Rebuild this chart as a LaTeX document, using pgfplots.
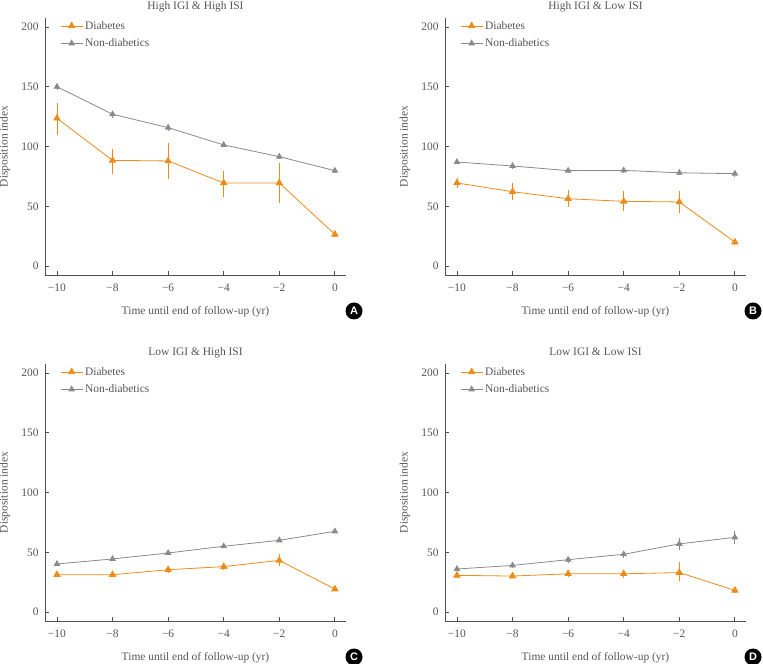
\documentclass[border=0pt]{standalone}
\usepackage{fontspec}
\setmainfont{Liberation Serif}
\newfontfamily\circfont{Liberation Sans}
\usepackage{pgfplots}
\pgfplotsset{compat=1.18}
\definecolor{dorange}{HTML}{EC8C1A}
\definecolor{ngray}{HTML}{8A8A8A}
\definecolor{axisgray}{HTML}{505050}
\definecolor{textgray}{HTML}{555555}
\pgfplotsset{
  every axis title shift=0pt,
  panel/.style={
    scale only axis, width=301bp, height=257bp,
    xmin=-10.43, xmax=0.4, ymin=-7.5, ymax=207.5,
    axis x line*=bottom, axis y line*=left,
    axis line style={-, draw=axisgray, line width=0.8bp},
    xtick={-10,-8,-6,-4,-2,0},
    xticklabels={−10,−8,−6,−4,−2,0},
    ytick={0,50,100,150,200},
    yticklabels={0,50,100,150,200},
    tick style={draw=axisgray, line width=0.8bp},
    major tick length=4bp, tick align=inside,
    font=\fontsize{11.5}{13}\selectfont,
    tick label style={text=textgray, font=\fontsize{11.5}{13}\selectfont},
    xticklabel style={yshift=-5bp},
    yticklabel style={xshift=-3bp},
    xlabel={Time until end of follow-up (yr)},
    ylabel={Disposition index},
    label style={text=textgray, font=\fontsize{11.5}{13}\selectfont},
    xlabel style={at={(axis description cs:0.5,-0.144)}, anchor=center},
    ylabel style={at={(axis description cs:-0.133,0.5)}, anchor=center},
    title style={at={(axis description cs:0.5,1)}, anchor=base, yshift=8.5bp, text=textgray, font=\fontsize{11.5}{13}\selectfont},
    legend cell align=left,
    legend style={draw=none, fill=none, at={(rel axis cs:0,1)}, anchor=north west, xshift=12bp, yshift=1bp,
      font=\fontsize{11.5}{13}\selectfont, text=textgray, row sep=4bp},
    legend image code/.code={\draw[mark repeat=2,mark phase=2] plot coordinates {(0cm,0cm)(0.39cm,0cm)(0.78cm,0cm)};},
  },
  diab/.style={color=dorange, line width=0.8bp, mark=triangle*, mark size=3.6bp,
    mark options={solid, fill=dorange, draw=dorange},
    error bars/.cd, y dir=both, y explicit, error mark=none,
    error bar style={line width=0.8bp, color=dorange}},
  nond/.style={color=ngray, line width=0.8bp, mark=triangle*, mark size=3.1bp,
    mark options={solid, fill=ngray, draw=ngray},
    error bars/.cd, y dir=both, y explicit, error mark=none,
    error bar style={line width=0.8bp, color=ngray}},
}
\begin{document}
\begin{tikzpicture}
\useasboundingbox (0,0) rectangle (763bp,664bp);
% Panel A
\begin{axis}[panel, at={(45bp,389bp)}, anchor=south west, title={High IGI \& High ISI}]
\addplot[diab] table[x=x, y=y, y error plus=ep, y error minus=em] {
x y ep em
-10 123.6 12.5 14
-8 88.4 9.6 11
-6 87.9 14.7 15.4
-4 69.5 10 11.5
-2 69.5 16.5 17
0 26.5 2.5 2.5
};
\addlegendentry{Diabetes}
\addplot[nond] table[x=x, y=y, y error plus=ep, y error minus=em] {
x y ep em
-10 150 2.5 2.5
-8 127 3 3
-6 115.8 2.5 2.5
-4 101.3 2 2
-2 91.5 2 2
0 79.8 2 2
};
\addlegendentry{Non-diabetics}
\end{axis}
% Panel B
\begin{axis}[panel, at={(445bp,389bp)}, anchor=south west, title={High IGI \& Low ISI}]
\addplot[diab] table[x=x, y=y, y error plus=ep, y error minus=em] {
x y ep em
-10 69.5 4 4.5
-8 62.2 7 7
-6 56.3 7 6.7
-4 54.1 8.5 8
-2 53.6 9.5 9.5
0 20 2 2
};
\addlegendentry{Diabetes}
\addplot[nond] table[x=x, y=y, y error plus=ep, y error minus=em] {
x y ep em
-10 87 2 2
-8 83.7 2.5 2.5
-6 79.8 2 2
-4 80 2.5 2.5
-2 78 2 2
0 77.3 2.5 2.5
};
\addlegendentry{Non-diabetics}
\end{axis}
% Panel C
\begin{axis}[panel, at={(45bp,43bp)}, anchor=south west, title={Low IGI \& High ISI}]
\addplot[diab] table[x=x, y=y, y error plus=ep, y error minus=em] {
x y ep em
-10 31.2 2 2
-8 31.2 2 2
-6 35.4 2.5 2.5
-4 38 2.5 2.5
-2 43.2 5 4.5
0 19.2 2 2
};
\addlegendentry{Diabetes}
\addplot[nond] table[x=x, y=y, y error plus=ep, y error minus=em] {
x y ep em
-10 40.2 1.5 1.5
-8 44.4 1.5 1.5
-6 49.4 1.5 1.5
-4 55 1.5 1.5
-2 60 1.5 1.5
0 67.5 1.5 1.5
};
\addlegendentry{Non-diabetics}
\end{axis}
% Panel D
\begin{axis}[panel, at={(445bp,43bp)}, anchor=south west, title={Low IGI \& Low ISI}]
\addplot[diab] table[x=x, y=y, y error plus=ep, y error minus=em] {
x y ep em
-10 30.7 2 2
-8 30.1 2 2
-6 32 2.5 2.5
-4 32 3.5 3.5
-2 33 9 7
0 18.1 2 2
};
\addlegendentry{Diabetes}
\addplot[nond] table[x=x, y=y, y error plus=ep, y error minus=em] {
x y ep em
-10 36 2 2
-8 39 2 2
-6 43.8 2.5 2.5
-4 48.3 3 3
-2 57 5.3 5.2
0 62.5 5.3 5.3
};
\addlegendentry{Non-diabetics}
\end{axis}
\foreach \l/\px/\py in {A/354/353, B/753/353, C/354/7, D/753/7}{
  \node[circle, fill=black, text=white, inner sep=0pt, minimum size=17bp, font=\circfont\bfseries\fontsize{11}{11}\selectfont] at (\px bp,\py bp) {\l};
}
\end{tikzpicture}
\end{document}
